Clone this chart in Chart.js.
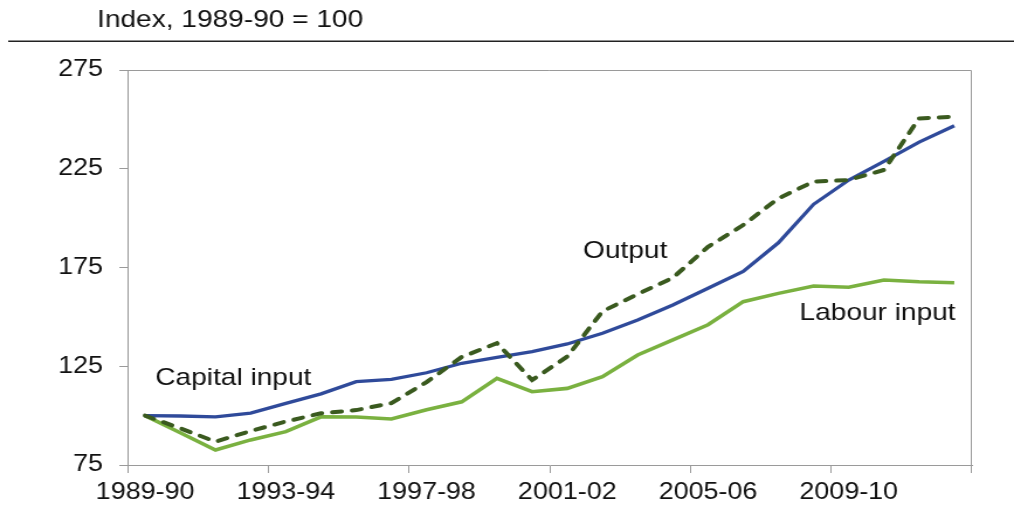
<!DOCTYPE html>
<html>
<head>
<meta charset="utf-8">
<title>Capital input, labour input and output</title>
<script src="https://cdn.jsdelivr.net/npm/chart.js@4/dist/chart.umd.min.js"></script>
<style>
  html, body { margin: 0; padding: 0; background: #fff; overflow: hidden; }
  /* the reference is a horizontally stretched picture, so draw narrow and stretch */
  #wrap { width: 867px; height: 521px; transform: scaleX(1.16955); transform-origin: 0 0; }
</style>
</head>
<body>
<div id="wrap"><canvas id="chart" width="867" height="521"></canvas></div>
<script>
// ─── Data ────────────────────────────────────────────────────────────────────
const years = [
    '1989-90', '1990-91', '1991-92', '1992-93', '1993-94', '1994-95', '1995-96', '1996-97',
    '1997-98', '1998-99', '1999-00', '2000-01', '2001-02', '2002-03', '2003-04', '2004-05',
    '2005-06', '2006-07', '2007-08', '2008-09', '2009-10', '2010-11', '2011-12', '2012-13'
];
const capitalInput = [100, 99.8, 99.4, 101.3, 106.2, 111, 117.2, 118.4, 121.7, 126.5, 129.5, 132.4,
    136.3, 141.7, 148.4, 156, 164.5, 173, 187.5, 207, 219.3, 228.7, 238.5, 246.8];
const labourInput = [100, 91.3, 82.6, 87.7, 91.9, 99.4, 99.3, 98.3, 103, 107, 118.9, 112.1,
    113.8, 119.7, 130.7, 138.3, 146, 157.7, 161.9, 165.6, 165, 168.7, 167.8, 167.3];
const output = [100, 93.6, 86.8, 92.2, 97, 101.2, 102.8, 106.3, 117, 129.7, 136.7, 118,
    129.9, 152.8, 161.5, 169.8, 185.5, 196.5, 210, 218.5, 219.3, 224.4, 250.5, 251.4];
const yTicks = [75, 125, 175, 225, 275];

// labels on the plot: [text, category position, value at baseline]
const seriesLabels = [
    ['Capital input', 0.29, 115.5],
    ['Output', 12.45, 179.8],
    ['Labour input', 18.6, 148.4]
];

const FONT = "'Liberation Sans', Arial, sans-serif";
const AXIS_GREY = '#9a9a9a';
const TEXT = '#111111';

Chart.defaults.font.family = FONT;
Chart.defaults.color = TEXT;

// ─── Header, box and line labels ─────────────────────────────────────────────
const decorPlugin = {
    id: 'decor',
    afterDraw(chart) {
        const { ctx, chartArea: a, scales } = chart;
        ctx.save();
        ctx.fillStyle = TEXT;
        ctx.font = '24px ' + FONT;
        ctx.textBaseline = 'alphabetic';
        ctx.fillText('Index, 1989-90 = 100', 83, 27);

        ctx.fillStyle = '#222';
        ctx.fillRect(7, 40.5, chart.width - 7, 1.5);

        ctx.strokeStyle = AXIS_GREY;
        ctx.lineWidth = 1;
        ctx.beginPath();
        ctx.moveTo(a.left, a.top + 0.5);
        ctx.lineTo(a.right - 0.5, a.top + 0.5);
        ctx.lineTo(a.right - 0.5, a.bottom);
        ctx.stroke();

        ctx.fillStyle = TEXT;
        seriesLabels.forEach(([text, pos, val]) => {
            ctx.fillText(text, scales.x.getPixelForValue(pos), scales.y.getPixelForValue(val));
        });
        ctx.restore();
    }
};

// ─── Chart ───────────────────────────────────────────────────────────────────
new Chart(document.getElementById('chart').getContext('2d'), {
    type: 'line',
    data: {
        labels: years,
        datasets: [
            {
                label: 'Output',
                data: output,
                borderColor: '#3a5a1f',
                borderWidth: 4,
                borderDash: [8, 9],
                borderCapStyle: 'round'
            },
            {
                label: 'Capital input',
                data: capitalInput,
                borderColor: '#2f4a9a',
                borderWidth: 3.3
            },
            {
                label: 'Labour input',
                data: labourInput,
                borderColor: '#7ab140',
                borderWidth: 3.6
            }
        ]
    },
    options: {
        responsive: false,
        animation: false,
        devicePixelRatio: 1,
        elements: { point: { radius: 0 }, line: { tension: 0, fill: false } },
        layout: { padding: { top: 70, right: 36, left: 0, bottom: 0 } },
        plugins: { legend: { display: false }, tooltip: { enabled: false } },
        scales: {
            x: {
                offset: true,
                afterFit: s => { s.height = 56; },
                grid: {
                    offset: true,
                    drawOnChartArea: false,
                    tickLength: 8,
                    color: AXIS_GREY,
                    tickColor: c => (c.index === undefined || c.index % 4 === 0) ? AXIS_GREY : 'rgba(0,0,0,0)'
                },
                border: { color: AXIS_GREY, width: 1 },
                ticks: {
                    autoSkip: false,
                    maxRotation: 0,
                    padding: 6,
                    font: { size: 23 },
                    color: TEXT,
                    callback: function(val, i) { return i % 4 === 0 ? years[i] : ''; }
                }
            },
            y: {
                min: yTicks[0],
                max: yTicks[yTicks.length - 1],
                afterFit: s => { s.width = 109; },
                afterBuildTicks: s => { s.ticks = yTicks.map(v => ({ value: v })); },
                grid: { drawOnChartArea: false, tickLength: 7, tickColor: AXIS_GREY },
                border: { color: AXIS_GREY, width: 1 },
                ticks: { padding: 14, font: { size: 23 }, color: TEXT }
            }
        }
    },
    plugins: [decorPlugin]
});
</script>
</body>
</html>
